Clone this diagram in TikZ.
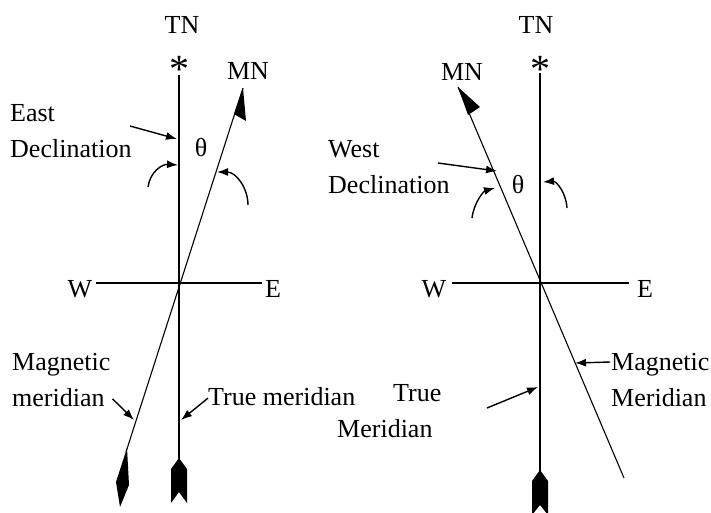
\documentclass[tikz,border=0pt]{standalone}
\usepackage{fontspec}
\setmainfont{Liberation Serif}
\usepackage{tikz}
\usepackage{xcolor}
\usetikzlibrary{arrows.meta, positioning}
\definecolor{InkBlack}{HTML}{000000}
\definecolor{PaperWhite}{HTML}{ffffff}
\tikzset{
    % Text styles
    labeltext/.style={
        inner sep=0pt,
        text=InkBlack,
        font=\fontsize{26}{36}\selectfont
    },
    startext/.style={
        inner sep=0pt,
        text=InkBlack,
        font=\fontsize{40}{40}\selectfont
    },
    % Line styles
    meridianline/.style={
        draw=InkBlack,
        line width=1.1pt
    },
    pointerarrow/.style={
        -{Latex[length=11pt,width=8pt]},
        line width=1.4pt,
        InkBlack
    },
    fletch/.style={
        fill=InkBlack,
        draw=none
    }
}

\begin{document}
\begin{tikzpicture}[x=1pt, y=-1pt]
    \fill[PaperWhite] (0,0) rectangle (711,512);
    \useasboundingbox (0,0) rectangle (711,512);

    % ---- East declination ----
    \coordinate (tnTopA) at (179,75);
    \coordinate (tnBotA) at (179,460);
    \coordinate (mnTopA) at (243,88);
    \coordinate (mnBotA) at (126,452);
    \coordinate (westA) at (96,283);
    \coordinate (eastA) at (262,283);

    \node[labeltext, anchor=base] (tnA) at (182,33) {TN};
    \node[startext, anchor=base] (starA) at (179,82) {*};
    \node[labeltext, anchor=base] (mnA) at (248,79) {MN};
    \node[labeltext, anchor=north west, align=left] (eastdecl) at (10,104) {East\\Declination};
    \node[labeltext] (thetaA) at (201,148) {θ};
    \node[labeltext, anchor=base] (wA) at (80,297) {W};
    \node[labeltext, anchor=base] (eA) at (273,297) {E};
    \node[labeltext, anchor=north west, align=left] (magmerA) at (12,353) {Magnetic\\meridian};
    \node[labeltext, anchor=base west] (truemerA) at (208,405) {True meridian};

    \draw[meridianline] (tnTopA) -- (tnBotA);
    \draw[meridianline] (mnTopA) -- (mnBotA);
    \draw[meridianline] (westA) -- (eastA);

    \fill[fletch] (243,88) -- (246,121) -- (234,114) -- cycle;
    \fill[fletch] (179,458) -- (187,469) -- (187,503) -- (179,492) -- (171,503) -- (171,469) -- cycle;
    \fill[fletch] (127,448) -- (129,485) -- (120,507) -- (116,482) -- cycle;

    \coordinate (eastTip) at (177,139);
    \coordinate (arcTipA) at (178,165);
    \coordinate (arcTipB) at (217,172);
    \coordinate (magTipA) at (134,420);
    \coordinate (trueTipA) at (181,420);

    \draw[pointerarrow] (130,126) -- (eastTip);
    \draw[pointerarrow] (148,187) .. controls (150,172) and (162,164) .. (arcTipA);
    \draw[pointerarrow] (248,205) .. controls (248,188) and (236,172) .. (arcTipB);
    \draw[pointerarrow] (magmerA.south east) ++(2,-8) -- (magTipA);
    \draw[pointerarrow] (truemerA.west) ++(0,2) -- (trueTipA);

    % ---- West declination ----
    \coordinate (tnTopB) at (540,73);
    \coordinate (tnBotB) at (540,472);
    \coordinate (mnTopB) at (458,87);
    \coordinate (mnBotB) at (624,478);
    \coordinate (westB) at (452,283);
    \coordinate (eastB) at (629,283);

    \node[labeltext, anchor=base] (tnB) at (536,33) {TN};
    \node[startext, anchor=base] (starB) at (540,82) {*};
    \node[labeltext, anchor=base] (mnB) at (462,80) {MN};
    \node[labeltext, anchor=north west, align=left] (westdecl) at (328,140) {West\\Declination};
    \node[labeltext] (thetaB) at (518,185) {θ};
    \node[labeltext, anchor=base] (wB) at (434,297) {W};
    \node[labeltext, anchor=base] (eB) at (645,297) {E};
    \node[labeltext, anchor=north west, align=left] (truemerB) at (337,384) {\hspace*{56pt}True\\Meridian};
    \node[labeltext, anchor=north west, align=left] (magmerB) at (611,353) {Magnetic\\Meridian};

    \draw[meridianline] (tnTopB) -- (tnBotB);
    \draw[meridianline] (mnTopB) -- (mnBotB);
    \draw[meridianline] (westB) -- (eastB);

    \fill[fletch] (458,87) -- (480,107) -- (468,115) -- cycle;
    \fill[fletch] (540,470) -- (548,481) -- (548,515) -- (540,505) -- (532,515) -- (532,481) -- cycle;

    \coordinate (westTip) at (497,171);
    \coordinate (arcTipC) at (495,188);
    \coordinate (arcTipD) at (543,182);
    \coordinate (magTipB) at (575,363);
    \coordinate (trueTipB) at (538,387);

    \draw[pointerarrow] (438,163) -- (westTip);
    \draw[pointerarrow] (472,218) .. controls (474,202) and (484,191) .. (arcTipC);
    \draw[pointerarrow] (567,208) .. controls (566,192) and (556,181) .. (arcTipD);
    \draw[pointerarrow] (magmerB.north west) ++(-1,9) -- (magTipB);
    \draw[pointerarrow] (487,408) -- (trueTipB);
\end{tikzpicture}
\end{document}
